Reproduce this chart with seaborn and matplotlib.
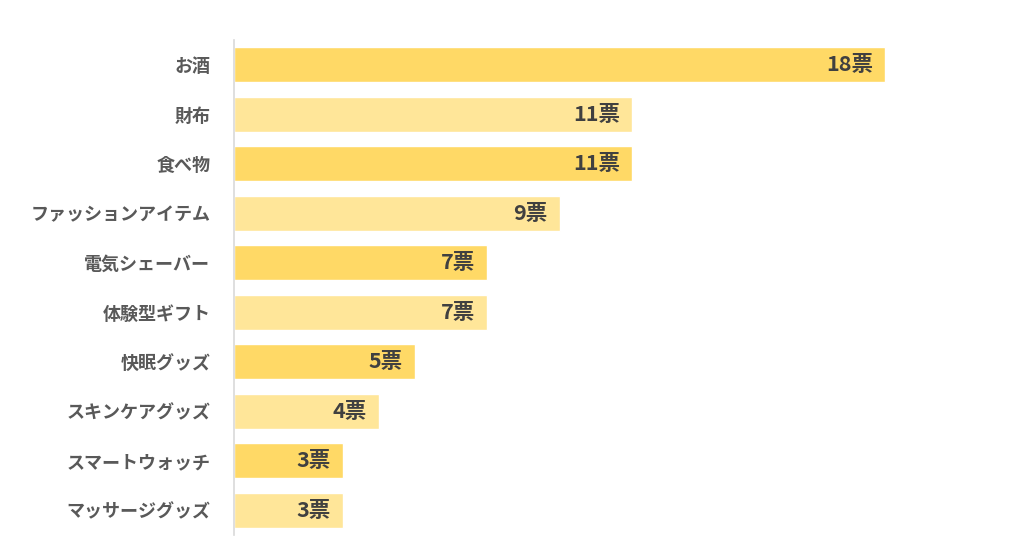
import matplotlib
matplotlib.use("Agg")
import matplotlib.pyplot as plt
import seaborn as sns
import pandas as pd

categories = ["お酒", "財布", "食べ物", "ファッションアイテム", "電気シェーバー",
              "体験型ギフト", "快眠グッズ", "スキンケアグッズ", "スマートウォッチ", "マッサージグッズ"]
votes = [18, 11, 11, 9, 7, 7, 5, 4, 3, 3]
value_labels = [f"{v}票" for v in votes]

sns.set_theme(style="white")
plt.rcParams['font.family'] = ['Noto Sans CJK JP', 'DejaVu Sans']

df = pd.DataFrame({"cat": categories, "votes": votes})
colors = ["#FFD966" if i % 2 == 0 else "#FFE699" for i in range(len(categories))]

fig = plt.figure(figsize=(10.24, 5.47), dpi=100)
ax = fig.add_axes([234/1024, 1-535/547, (1000-234)/1024, 495/547])
sns.barplot(data=df, x="votes", y="cat", hue="cat", palette=colors, legend=False,
            width=0.71, ax=ax, saturation=1)

ax.set_xlim(0, 766/36.17)
ax.set_ylim(9.5, -0.5)
ax.set_xlabel("")
ax.set_ylabel("")
ax.set_xticks([])
for s in ["top", "right", "bottom"]:
    ax.spines[s].set_visible(False)
ax.spines["left"].set_color("#D9D9D9")
ax.spines["left"].set_linewidth(1.2)
ax.tick_params(axis="y", length=0, pad=17)
for lbl in ax.get_yticklabels():
    lbl.set_fontsize(13)
    lbl.set_fontweight("bold")
    lbl.set_color("#595959")

for i, (v, t) in enumerate(zip(votes, value_labels)):
    ax.text(v - 0.33, i, t, ha="right", va="center", fontsize=15.5,
            fontweight="bold", color="#404040")

fig.savefig("out.png", dpi=100)
